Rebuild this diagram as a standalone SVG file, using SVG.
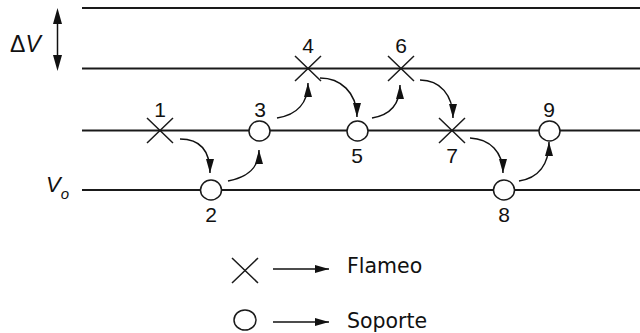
<svg xmlns="http://www.w3.org/2000/svg" width="640" height="333" viewBox="0 0 640 333">
<defs>
<style>
.lvl{stroke:#1a1a1a;stroke-width:1.8;fill:none}
.x{stroke:#1a1a1a;stroke-width:1.5;fill:none}
.o{stroke:#1a1a1a;stroke-width:1.5;fill:#fff}
.c{stroke:#111;stroke-width:1.5;fill:none;marker-end:url(#ah)}
.num{font-family:"Liberation Sans",Arial,sans-serif;font-size:21px;fill:#111;text-anchor:middle}
.leg{font-family:"DejaVu Sans",sans-serif;font-size:20.5px;fill:#111}
.sym{font-family:"Liberation Sans",Arial,sans-serif;fill:#111}
</style>
<marker id="ah" markerUnits="userSpaceOnUse" markerWidth="16" markerHeight="10" refX="14" refY="4" orient="auto">
<path d="M0,0 L14,4 L0,8 z" fill="#111"/>
</marker>
</defs>
<rect width="640" height="333" fill="#fff"/>
<g id="levels">
<line class="lvl" x1="82" y1="8" x2="640" y2="8"/>
<line class="lvl" x1="82" y1="68.5" x2="640" y2="68.5"/>
<line class="lvl" x1="82" y1="130.5" x2="640" y2="130.5"/>
<line class="lvl" x1="82" y1="190" x2="640" y2="190"/>
</g>
<g id="deltaV">
<line x1="57.5" y1="22" x2="57.5" y2="57" stroke="#111" stroke-width="1.5"/>
<path d="M57.5,8 L53,24 L62,24 z M57.5,71 L53,55 L62,55 z" fill="#111"/>
<text class="sym" x="10" y="52" font-size="23">Δ<tspan font-style="italic">V</tspan></text>
</g>
<g id="Vo">
<text class="sym" x="46" y="192" font-size="22" font-style="italic">V<tspan font-size="15" dy="7">o</tspan></text>
</g>
<g id="connectors">
<path class="c" d="M180,139 C200,139 210,150 210,173"/>
<path class="c" d="M228,181 C248,177 259,168 259,150"/>
<path class="c" d="M277,118 C297,115 308,103 308,83"/>
<path class="c" d="M320,78 C340,78 357,92 357,117"/>
<path class="c" d="M372,118 C390,115 400,105 400,85"/>
<path class="c" d="M420,80 C440,80 453,95 453,118"/>
<path class="c" d="M470,138 C490,139 503,152 503,173"/>
<path class="c" d="M519,181 C538,178 549,165 549,142"/>
</g>
<g id="n1"><path class="x" d="M147,118 L173,143 M173,118 L147,143"/><text class="num" x="160" y="117">1</text></g>
<g id="n2"><ellipse class="o" cx="211" cy="190" rx="10.5" ry="10"/><text class="num" x="211" y="222">2</text></g>
<g id="n3"><ellipse class="o" cx="259.5" cy="131" rx="10.5" ry="10"/><text class="num" x="260" y="117">3</text></g>
<g id="n4"><path class="x" d="M295,56 L321,81 M321,56 L295,81"/><text class="num" x="308" y="53">4</text></g>
<g id="n5"><ellipse class="o" cx="357.5" cy="131" rx="10.5" ry="10"/><text class="num" x="357" y="163">5</text></g>
<g id="n6"><path class="x" d="M388,56 L414,81 M414,56 L388,81"/><text class="num" x="401" y="53">6</text></g>
<g id="n7"><path class="x" d="M439,118 L465,143 M465,118 L439,143"/><text class="num" x="452" y="163">7</text></g>
<g id="n8"><ellipse class="o" cx="504" cy="190" rx="10.5" ry="10"/><text class="num" x="504" y="222">8</text></g>
<g id="n9"><ellipse class="o" cx="549.5" cy="131" rx="10.5" ry="10"/><text class="num" x="549" y="117">9</text></g>
<g id="legend">
<path class="x" d="M232,258 L258,283 M258,258 L232,283"/>
<line x1="273" y1="269" x2="329" y2="269" stroke="#111" stroke-width="1.5" marker-end="url(#ah)"/>
<text class="leg" x="347" y="273">Flameo</text>
<ellipse class="o" cx="245" cy="320" rx="11" ry="10"/>
<line x1="273" y1="322" x2="329" y2="322" stroke="#111" stroke-width="1.5" marker-end="url(#ah)"/>
<text class="leg" x="347" y="328">Soporte</text>
</g>
</svg>
